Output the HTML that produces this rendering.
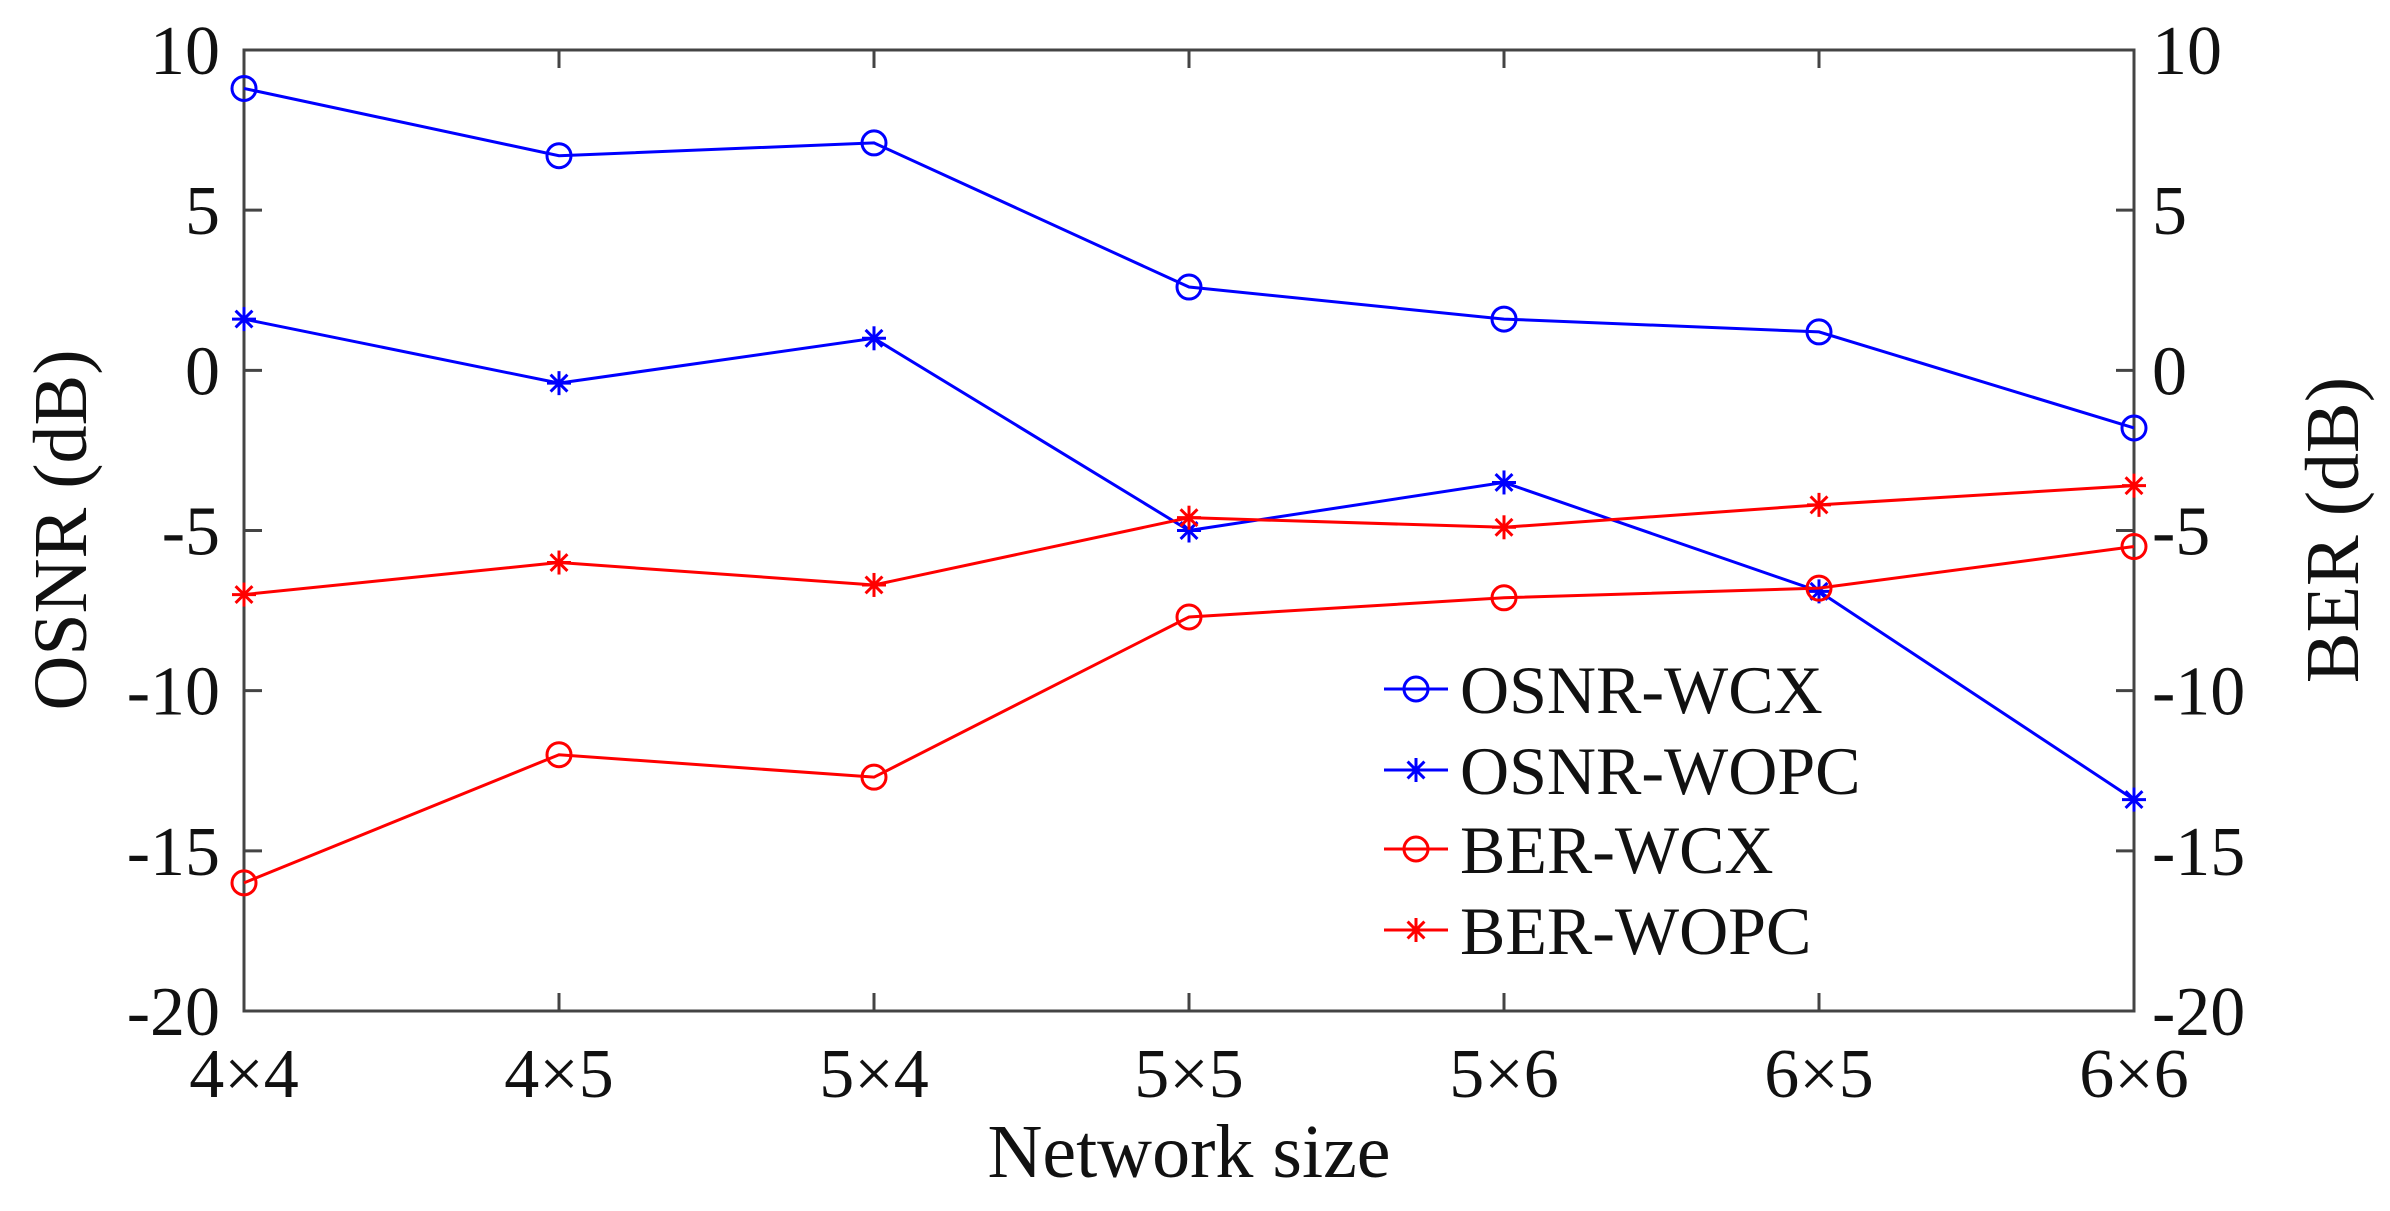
<!DOCTYPE html>
<html><head><meta charset="utf-8"><style>
body{margin:0;background:#fff}
svg{display:block;font-family:"Liberation Serif",serif}
</style></head><body>
<svg id="chart" width="2390" height="1211" viewBox="0 0 2390 1211">
<rect width="2390" height="1211" fill="#fff"/>
<g id="axes"></g>
<g id="series"></g>
<g id="legend"></g>
</svg>
<script>
const categories=["4×4","4×5","5×4","5×5","5×6","6×5","6×6"];
const osnrWCX=[8.8,6.7,7.1,2.6,1.6,1.2,-1.8];
const osnrWOPC=[1.6,-0.4,1.0,-5.0,-3.5,-6.9,-13.4];
const berWCX=[-16.0,-12.0,-12.7,-7.7,-7.1,-6.8,-5.5];
const berWOPC=[-7.0,-6.0,-6.7,-4.6,-4.9,-4.2,-3.6];
const yTicks=[10,5,0,-5,-10,-15,-20];
const seriesNames=["OSNR-WCX","OSNR-WOPC","BER-WCX","BER-WOPC"];

const NS="http://www.w3.org/2000/svg";
const L=244,R=2134,T=50,B=1011,yMin=-20,yMax=10;
const xs=i=>L+i*(R-L)/(categories.length-1);
const ys=v=>B-(v-yMin)/(yMax-yMin)*(B-T);
function mk(tag,attrs,parent){const e=document.createElementNS(NS,tag);for(const k in attrs)e.setAttribute(k,attrs[k]);parent.appendChild(e);return e;}
const ax=document.getElementById('axes');
const box=mk('rect',{x:L,y:T,width:R-L,height:B-T,fill:'none',stroke:'#444','stroke-width':3},ax);


yTicks.forEach(v=>{
  const y=ys(v);
  mk('line',{x1:L,x2:L+18,y1:y,y2:y,stroke:'#444','stroke-width':3},ax);
  mk('line',{x1:R,x2:R-18,y1:y,y2:y,stroke:'#444','stroke-width':3},ax);
  const t=mk('text',{x:220,y:y+24,'text-anchor':'end','font-size':70,fill:'#111'},ax);t.textContent=v;
  
  
  const t2=mk('text',{x:2152,y:y+24,'text-anchor':'start','font-size':70,fill:'#111'},ax);t2.textContent=v;
  
  
});
categories.forEach((c,i)=>{
  const x=xs(i);
  mk('line',{x1:x,x2:x,y1:B,y2:B-18,stroke:'#444','stroke-width':3},ax);
  mk('line',{x1:x,x2:x,y1:T,y2:T+18,stroke:'#444','stroke-width':3},ax);
  const t=mk('text',{x:x,y:1097,'text-anchor':'middle','font-size':70,fill:'#111'},ax);t.textContent=c;
  
  
});
let t=mk('text',{x:1189,y:1177,'text-anchor':'middle','font-size':76,fill:'#111'},ax);t.textContent='Network size';


t=mk('text',{x:0,y:0,'text-anchor':'middle','font-size':76,fill:'#111',transform:'translate(86,530) rotate(-90)'},ax);t.textContent='OSNR (dB)';


t=mk('text',{x:0,y:0,'text-anchor':'middle','font-size':76,fill:'#111',transform:'translate(2358,530) rotate(-90)'},ax);t.textContent='BER (dB)';



function marker(g,x,y,type,color){
  if(type==='o'){mk('circle',{cx:x,cy:y,r:12,fill:'none',stroke:color,'stroke-width':3},g);}
  else{const r=12;[[r,0],[0,r],[r*.7,r*.7],[r*.7,-r*.7]].forEach(([dx,dy])=>mk('line',{x1:x-dx,y1:y-dy,x2:x+dx,y2:y+dy,stroke:color,'stroke-width':3},g));}
}
const sg=document.getElementById('series');
const defs=[[osnrWCX,'o','#0000ff'],[osnrWOPC,'*','#0000ff'],[berWCX,'o','#ff0000'],[berWOPC,'*','#ff0000']];
defs.forEach(([d,m,c],k)=>{
  const g=mk('g',{},sg);
  
  
  mk('polyline',{points:d.map((v,i)=>xs(i)+','+ys(v)).join(' '),fill:'none',stroke:c,'stroke-width':3},g);
  d.forEach((v,i)=>marker(g,xs(i),ys(v),m,c));
});
const lg=document.getElementById('legend');


const rows=[689,770,849,930];
defs.forEach(([d,m,c],k)=>{
  const g=mk('g',{},lg);
  
  
  mk('line',{x1:1384,x2:1448,y1:rows[k],y2:rows[k],stroke:c,'stroke-width':3},g);
  marker(g,1416,rows[k],m,c);
  const tt=mk('text',{x:1460,y:rows[k]+24,'font-size':68,fill:'#111'},g);tt.textContent=seriesNames[k];
});
</script>
</body></html>
